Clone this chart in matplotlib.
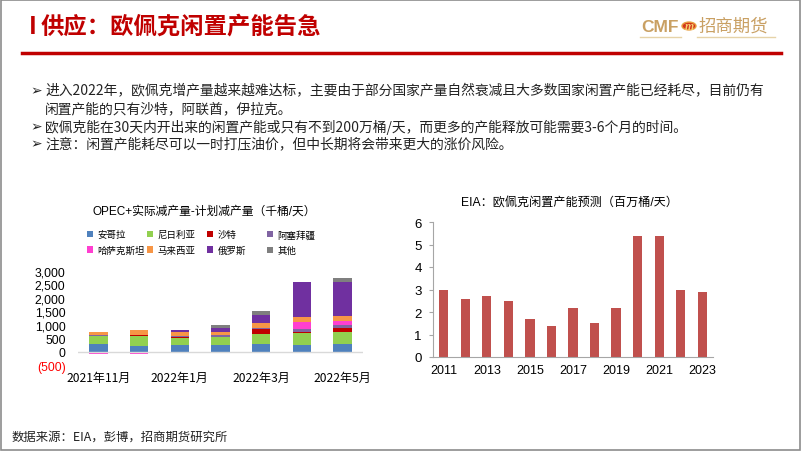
import matplotlib.pyplot as plt
from matplotlib.patches import Rectangle, Circle
from matplotlib.lines import Line2D

plt.rcParams['font.family'] = ['Liberation Sans', 'Noto Sans CJK SC', 'DejaVu Sans']

# OPEC+ actual minus planned cut, thousand b/d
months = ["2021年11月", "2021年12月", "2022年1月", "2022年2月", "2022年3月", "2022年4月", "2022年5月"]
month_ticks = ["2021年11月", "", "2022年1月", "", "2022年3月", "", "2022年5月"]
countries = ["安哥拉", "尼日利亚", "沙特", "阿塞拜疆", "哈萨克斯坦", "马来西亚", "俄罗斯", "其他"]
angola = [275, 225, 240, 240, 275, 260, 275]
nigeria = [310, 360, 250, 310, 390, 425, 440]
saudi = [0, 50, 60, 0, 175, 50, 160]
azerbaijan = [50, 0, 40, 50, 40, 100, 125]
kazakhstan = [-100, -100, 0, 0, 0, 250, 140]
malaysia = [110, 160, 150, 125, 175, 200, 200]
russia = [0, 0, 60, 140, 290, 1300, 1240]
others = [0, 0, 0, 125, 150, 0, 160]
country_colors = ["#4F81BD", "#92D050", "#C00000", "#8064A2", "#FF3FD0", "#F79646", "#7030A0", "#7F7F7F"]

# EIA OPEC spare capacity, million b/d
years = list(range(2011, 2024))
spare = [3.0, 2.6, 2.7, 2.5, 1.7, 1.4, 2.2, 1.5, 2.2, 5.4, 5.4, 3.0, 2.9]

bullets = [
    "进入2022年，欧佩克增产量越来越难达标，主要由于部分国家产量自然衰减且大多数国家闲置产能已经耗尽，目前仍有",
    "闲置产能的只有沙特，阿联酋，伊拉克。",
    "欧佩克能在30天内开出来的闲置产能或只有不到200万桶/天，而更多的产能释放可能需要3-6个月的时间。",
    "注意：闲置产能耗尽可以一时打压油价，但中长期将会带来更大的涨价风险。",
]

W, H = 802, 452
fig = plt.figure(figsize=(W / 100, H / 100), dpi=100)

def fx(px):
    return px / W

def fy(py):
    return 1 - py / H

# slide frame
fig.patches.append(Rectangle((0.001, 0.002), 0.997, 0.995, transform=fig.transFigure,
                             fill=False, edgecolor="#8C8C8C", linewidth=1.2))

# header
cjk = ['Noto Sans CJK SC', 'DejaVu Sans']
fig.text(fx(29), fy(27), "I", color="#C00000", fontsize=17, fontweight="bold", va="center", family=cjk)
fig.text(fx(41), fy(27), "供应：欧佩克闲置产能告急", color="#C00000", fontsize=16.8,
         fontweight="bold", va="center", family=cjk)
fig.lines.append(Line2D([fx(22), fx(781)], [fy(54), fy(54)], transform=fig.transFigure,
                        color="#C00000", linewidth=2.5))

# logo
gold = "#C9A063"
fig.text(fx(641), fy(27), "CMF", color=gold, fontsize=12.5, fontweight="bold", va="center",
         family=['Liberation Sans'])
fig.patches.append(Circle((fx(689), fy(27)), 7 / W, transform=fig.transFigure,
                          facecolor="#D4351C", edgecolor="#E8A040", linewidth=1))
fig.text(fx(689), fy(27), "m", color="#F5D070", fontsize=8.5, fontweight="bold", style="italic",
         ha="center", va="center", family=['Liberation Serif'])
fig.text(fx(699), fy(27), "招商期货", color=gold, fontsize=12.5, va="center", family=cjk)
for x0, x1 in [(640, 681), (697, 775)]:
    fig.lines.append(Line2D([fx(x0), fx(x1)], [fy(38), fy(38)], transform=fig.transFigure,
                            color="#E6D3A8", linewidth=1))

# bullets
bullet_y = [91, 109, 127, 144]
for i, (txt, yy) in enumerate(zip(bullets, bullet_y)):
    if i != 1:
        fig.text(fx(30), fy(yy), "➢", fontsize=10, va="center", color="#222222", family=['DejaVu Sans'])
    fig.text(fx(45), fy(yy), txt, fontsize=9.95, va="center", color="#222222", family=cjk)

# footer
fig.text(fx(12), fy(437), "数据来源：EIA，彭博，招商期货研究所", fontsize=8.9, va="center",
         color="#222222", family=cjk)

# ---- left chart: stacked bars
ax1 = fig.add_axes([fx(78), fy(366), fx(363) - fx(78), fy(272) - fy(366)])
series = [angola, nigeria, saudi, azerbaijan, kazakhstan, malaysia, russia, others]
xpos = list(range(len(months)))
pos_base = [0.0] * len(months)
neg_base = [0.0] * len(months)
handles = []
for name, vals, col in zip(countries, series, country_colors):
    bottoms = [pb if v >= 0 else nb for v, pb, nb in zip(vals, pos_base, neg_base)]
    b = ax1.bar(xpos, vals, width=0.45, bottom=bottoms, color=col, label=name)
    handles.append(b)
    pos_base = [pb + v if v >= 0 else pb for v, pb in zip(vals, pos_base)]
    neg_base = [nb + v if v < 0 else nb for v, nb in zip(vals, neg_base)]

ax1.set_xlim(-0.5, 6.5)
ax1.set_ylim(-500, 3000)
ax1.set_yticks(range(-500, 3001, 500))
ax1.set_yticklabels(["(500)"] + ["{:,}".format(v) for v in range(0, 3001, 500)])
ax1.get_yticklabels()[0].set_color("#FF0000")
ax1.set_xticks(xpos)
ax1.set_xticklabels(month_ticks, family=cjk)
ax1.tick_params(axis="both", length=0, labelsize=8.7)
ax1.tick_params(axis="y", pad=9)
ax1.tick_params(axis="x", pad=4)
for s in ax1.spines.values():
    s.set_visible(False)
ax1.axhline(0, color="#D9D9D9", linewidth=1)
ax1.set_facecolor("none")

fig.text(fx(204), fy(212), "OPEC+实际减产量-计划减产量（千桶/天）", fontsize=8.5,
         ha="center", va="center", family=['Liberation Sans', 'Noto Sans CJK SC'])

# legend: four fixed-width columns of two entries each
for col in range(4):
    idx = [col, col + 4]
    fig.legend([handles[i] for i in idx], [countries[i] for i in idx],
               loc="upper left", bbox_to_anchor=(fx(87 + 60 * col), fy(231)), frameon=False,
               prop={'family': 'Noto Sans CJK SC', 'size': 6.8}, borderpad=0, borderaxespad=0,
               handlelength=0.65, handleheight=0.65, handletextpad=0.45, labelspacing=0.7)

# ---- right chart: EIA spare capacity
ax2 = fig.add_axes([fx(433), fy(358), fx(713) - fx(433), fy(223) - fy(358)])
ax2.bar(years, spare, width=0.43, color="#C0504D")
ax2.set_xlim(2010.5, 2023.5)
ax2.set_ylim(0, 6)
ax2.set_yticks(range(0, 7))
ax2.set_xticks(years[::2])
ax2.tick_params(axis="y", length=3, color="#A6A6A6", labelsize=9.5, pad=5)
ax2.tick_params(axis="x", length=0, labelsize=9, pad=5)
for side in ["top", "right"]:
    ax2.spines[side].set_visible(False)
for side in ["left", "bottom"]:
    ax2.spines[side].set_color("#A6A6A6")
    ax2.spines[side].set_linewidth(0.8)
ax2.set_facecolor("none")

fig.text(fx(570), fy(203), "EIA：欧佩克闲置产能预测（百万桶/天）", fontsize=8.7,
         ha="center", va="center", family=['Liberation Sans', 'Noto Sans CJK SC'])

fig.savefig("out.png", dpi=100)
